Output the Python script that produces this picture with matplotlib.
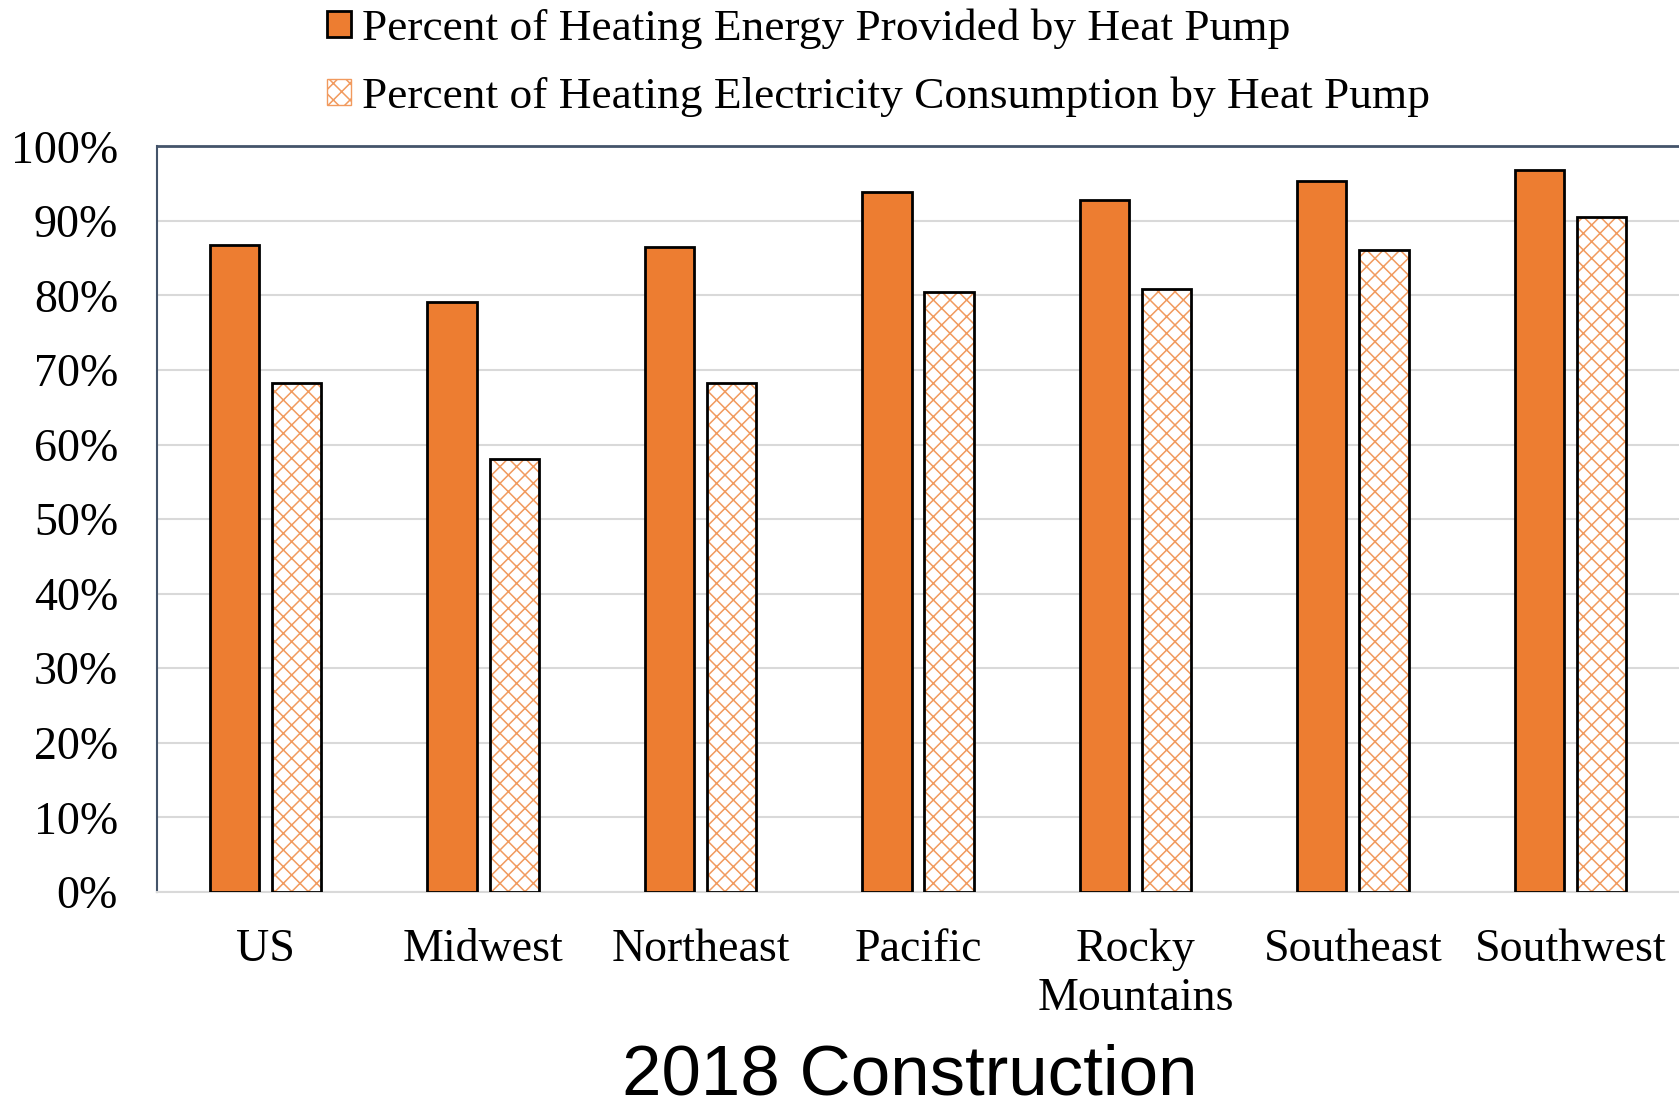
import numpy as np
import matplotlib
matplotlib.use("Agg")
import matplotlib.pyplot as plt
from matplotlib.patches import Patch

# data
regions = ["US", "Midwest", "Northeast", "Pacific", "Rocky\nMountains", "Southeast", "Southwest"]
energy_pct = [86.7, 79.1, 86.5, 93.8, 92.8, 95.3, 96.8]
electricity_pct = [68.3, 58.0, 68.3, 80.5, 80.8, 86.1, 90.5]
yticks = [0, 10, 20, 30, 40, 50, 60, 70, 80, 90, 100]

orange = "#ED7D31"
serif = ["Liberation Serif", "DejaVu Serif"]
plt.rcParams["hatch.linewidth"] = 1.1

fig = plt.figure(figsize=(16.79, 11.08), dpi=100)
ax = fig.add_axes([0.0935, 0.195, 0.9065, 0.673])

x = np.arange(len(regions))
w = 0.227
off = 0.143

ax.bar(x - off, energy_pct, w, color=orange, edgecolor="black", linewidth=2, zorder=3)
# hatched bars: pattern in orange, outline in black on top
ax.bar(x + off, electricity_pct, w, color="white", edgecolor="#F19A5E", hatch="xx", linewidth=0, zorder=3)
ax.bar(x + off, electricity_pct, w, fill=False, edgecolor="black", linewidth=2, zorder=4)

ax.set_xlim(-0.5, len(regions) - 0.5)
ax.set_ylim(0, 100)
ax.set_yticks(yticks)
ax.set_yticklabels([f"{v}%" for v in yticks], fontsize=33, family=serif)
ax.set_xticks(x)
ax.set_xticklabels(regions, fontsize=33, family=serif, linespacing=1.22)
ax.tick_params(axis="both", length=0)
ax.tick_params(axis="y", pad=28)
ax.tick_params(axis="x", pad=26)

ax.grid(axis="y", color="#D9D9D9", linewidth=1.5, zorder=0)
ax.spines["right"].set_visible(False)
ax.spines["left"].set_color("#44546A")
ax.spines["top"].set_color("#44546A")
ax.spines["left"].set_linewidth(1.5)
ax.spines["top"].set_linewidth(2)
ax.spines["bottom"].set_color("#D9D9D9")
ax.spines["bottom"].set_linewidth(1.5)

handles = [
    Patch(facecolor=orange, edgecolor="black", linewidth=2),
    Patch(facecolor="white", edgecolor="#F19A5E", hatch="xx", linewidth=1),
]
labels = ["Percent of Heating Energy Provided by Heat Pump",
          "Percent of Heating Electricity Consumption by Heat Pump"]
fig.legend(handles, labels, loc="upper left", bbox_to_anchor=(0.195, 0.992),
           frameon=False, prop={"family": serif, "size": 32.7},
           handlelength=0.51, handleheight=0.51, handletextpad=0.25,
           labelspacing=0.6, borderpad=0, borderaxespad=0)

fig.text(0.542, 0.012, "2018 Construction", ha="center", va="baseline",
         fontsize=51, family=["Liberation Sans", "DejaVu Sans"])

fig.savefig("out.png", dpi=100)
